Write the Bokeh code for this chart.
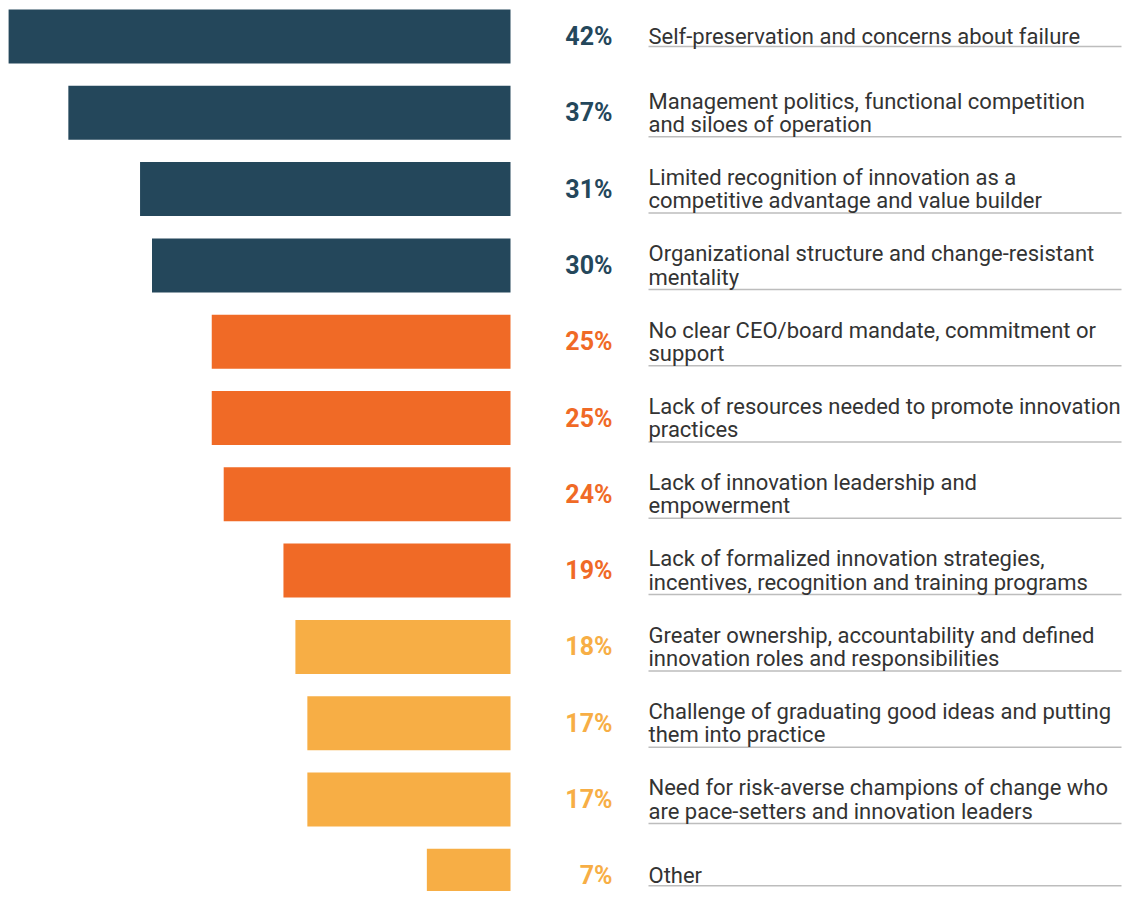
from bokeh.plotting import figure
from bokeh.models import Range1d, ColumnDataSource
from bokeh.core.properties import value
from bokeh.embed import file_html
from bokeh.resources import INLINE

labels = [
    "Self-preservation and concerns about failure",
    "Management politics, functional competition\nand siloes of operation",
    "Limited recognition of innovation as a\ncompetitive advantage and value builder",
    "Organizational structure and change-resistant\nmentality",
    "No clear CEO/board mandate, commitment or\nsupport",
    "Lack of resources needed to promote innovation\npractices",
    "Lack of innovation leadership and\nempowerment",
    "Lack of formalized innovation strategies,\nincentives, recognition and training programs",
    "Greater ownership, accountability and defined\ninnovation roles and responsibilities",
    "Challenge of graduating good ideas and putting\nthem into practice",
    "Need for risk-averse champions of change who\nare pace-setters and innovation leaders",
    "Other",
]
values = [42, 37, 31, 30, 25, 25, 24, 19, 18, 17, 17, 7]
tiers = [0, 0, 0, 0, 1, 1, 1, 1, 2, 2, 2, 2]
tier_colors = ["#24475B", "#F06A26", "#F7AE45"]

W, H = 1122, 891
PX_PER_PCT = 11.95
ZERO_PX = 510
ROW_PX = 76.3
ROW0_PX = 36

x_start = -ZERO_PX / PX_PER_PCT
x_end = (W - ZERO_PX) / PX_PER_PCT
y_top = -ROW0_PX / ROW_PX
y_bot = (H - ROW0_PX) / ROW_PX

rows = list(range(len(values)))
colors = [tier_colors[t] for t in tiers]
pct_text = [f"{v}%" for v in values]
nlines = [l.count("\n") + 1 for l in labels]
under_y = [r + (24 if n > 1 else 10) / ROW_PX for r, n in zip(rows, nlines)]

src = ColumnDataSource(dict(
    y=rows, left=[-v for v in values], right=[0] * len(values),
    color=colors, pct=pct_text, label=labels, uy=under_y,
))

p = figure(width=W, height=H, x_range=Range1d(x_start, x_end),
           y_range=Range1d(y_bot, y_top), output_backend="svg",
           toolbar_location=None, min_border=0, outline_line_color=None,
           background_fill_color="white", border_fill_color="white")
p.axis.visible = False
p.grid.visible = False

bar_h = 54 / ROW_PX
p.hbar(y="y", left="left", right="right", height=bar_h, color="color",
       line_color=None, source=src)

pct_x = (612 - ZERO_PX) / PX_PER_PCT
lab_x = (648 - ZERO_PX) / PX_PER_PCT
line_end = (W - 1 - ZERO_PX) / PX_PER_PCT

p.segment(x0=lab_x, x1=line_end, y0="uy", y1="uy", line_color="#BDBDBD",
          line_width=1.5, source=src)

p.text(x=pct_x, y="y", text="pct", text_color="color", text_align="right",
       text_baseline="middle", text_font=value("Roboto"),
       text_font_style="bold", text_font_size="25px", source=src)

p.text(x=lab_x, y="y", text="label", text_color="#333333", text_align="left",
       text_baseline="middle", text_font=value("Roboto"),
       text_font_size="22px", text_line_height=0.93, source=src)

open("out.html", "w").write(file_html(p, INLINE))
